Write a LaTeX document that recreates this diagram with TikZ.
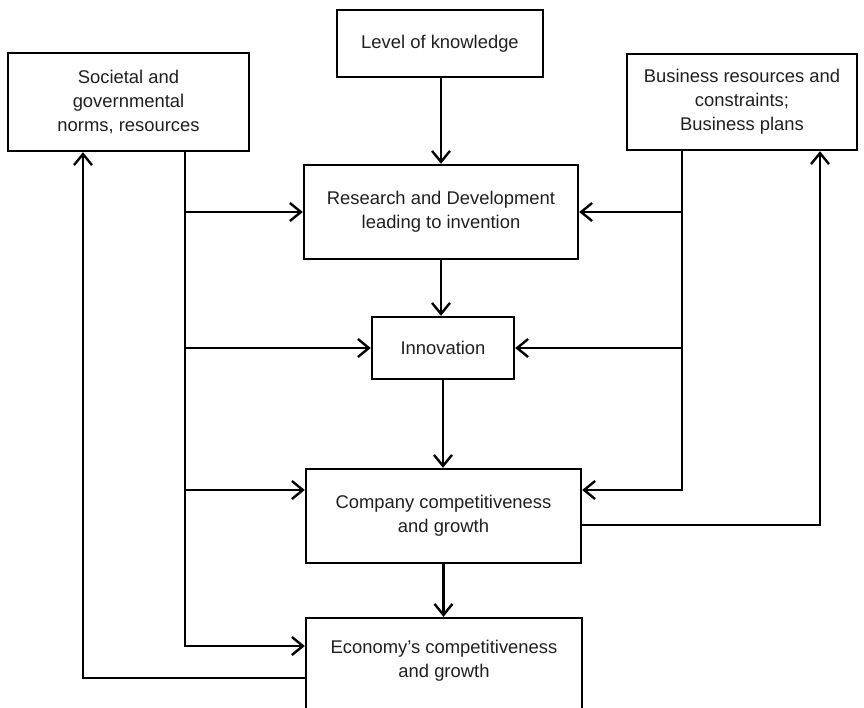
\documentclass[tikz,border=0pt]{standalone}
\usepackage{fontspec}
\setmainfont{Liberation Sans}
\usetikzlibrary{arrows.meta}

\tikzset{
  box/.style={draw, line width=1.2pt, align=center, inner sep=0pt,
    font=\fontsize{9.2pt}{12pt}\selectfont, text=black!88},
  link/.style={line width=1.3pt, line join=miter},
  arr/.style={link, -{Straight Barb[length=5.5pt,width=9pt,line width=1.2pt]}}
}

\begin{document}
\begin{tikzpicture}[x=0.5pt, y=-0.5pt]
  \useasboundingbox (0,0) rectangle (864,708);
  \clip (0,0) rectangle (864,708);

  % boxes
  \node[box, minimum width=103pt, minimum height=33.5pt]  (lk)  at (440,43.5) {Level of knowledge};
  \node[box, minimum width=120.5pt, minimum height=49pt]  (soc) at (128.5,102) {Societal and\\governmental\\norms, resources};
  \node[box, minimum width=115pt, minimum height=48pt]    (bus) at (742,102) {Business resources and\\constraints;\\Business plans};
  \node[box, minimum width=137pt, minimum height=47pt]    (rd)  at (441,212) {Research and Development\\leading to invention};
  \node[box, minimum width=71pt, minimum height=31pt]     (inn) at (443,348) {Innovation};
  \node[box, minimum width=137.5pt, minimum height=47pt]  (co)  at (443.5,516) {Company competitiveness\\and growth};
  \node[box, minimum width=138pt, minimum height=47pt]    (eco) at (444,665) {};
  \node[align=center, font=\fontsize{9.2pt}{12pt}\selectfont, text=black!88, inner sep=0pt]
       (ecot) at (444,661) {Economy’s competitiveness\\and growth};

  % trunk positions and side ports
  \coordinate (lt) at (185,0);
  \coordinate (rt) at (682,0);
  \coordinate (lf) at (83,0);
  \coordinate (rf) at (820,0);
  \coordinate (coin)  at ([yshift=13pt]co.west);
  \coordinate (coinr) at ([yshift=13pt]co.east);
  \coordinate (coout) at ([yshift=-4.5pt]co.east);
  \coordinate (ecoin) at ([yshift=9.5pt]eco.west);
  \coordinate (ecoout) at ([yshift=-6.5pt]eco.west);

  % main chain
  \draw[arr] (rd.north |- lk.south) -- (rd.north);
  \draw[arr] (rd.south) -- (rd.south |- inn.north);
  \draw[arr] (inn.south) -- (inn.south |- co.north);
  \draw[arr] (co.south) -- (co.south |- eco.north);

  % societal inputs
  \draw[arr] (soc.south -| lt) |- (ecoin);
  \draw[arr] (lt |- rd.west) -- (rd.west);
  \draw[arr] (lt |- inn.west) -- (inn.west);
  \draw[arr] (lt |- coin) -- (coin);

  % business inputs
  \draw[arr] (bus.south -| rt) |- (coinr);
  \draw[arr] (rt |- rd.east) -- (rd.east);
  \draw[arr] (rt |- inn.east) -- (inn.east);

  % feedback loops
  \draw[arr] (ecoout) -| (soc.south -| lf);
  \draw[arr] (coout) -| (bus.south -| rf);
\end{tikzpicture}
\end{document}
